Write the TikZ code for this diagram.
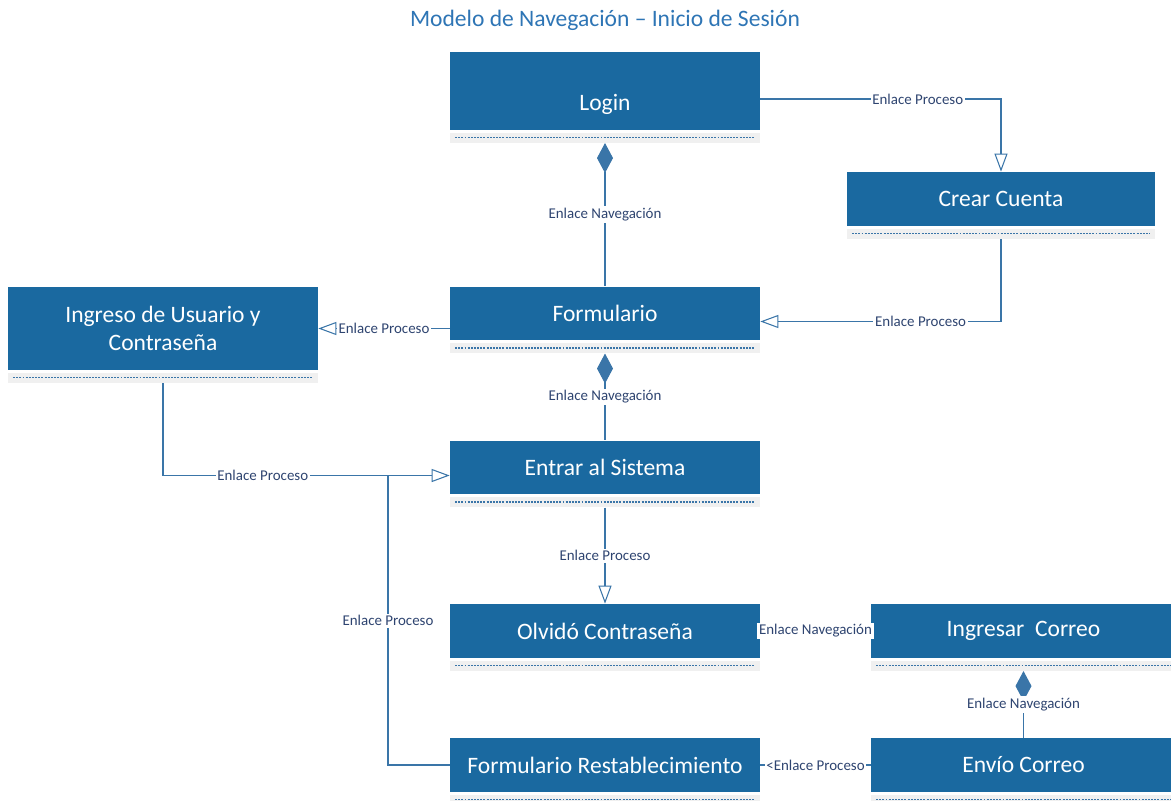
\documentclass[tikz,border=0pt]{standalone}
\usepackage{fontspec}
\setmainfont{Carlito}
\usepackage{tikz}
\usetikzlibrary{arrows.meta, positioning, calc}
\definecolor{CAJA}{HTML}{1A69A0}
\definecolor{LINEA}{HTML}{3A75A8}
\definecolor{ETIQUETA}{HTML}{2E4470}
\definecolor{TITULO}{HTML}{2E75B5}
\definecolor{BANDA}{HTML}{F0F0F0}

\begin{document}
\begin{tikzpicture}[x=0.02cm, y=-0.02cm,
    caja/.style={rectangle, fill=CAJA, text=white, minimum width=6.2cm, minimum height=1.08cm, inner sep=0pt, font=\fontsize{13.4}{16}\selectfont},
    banda/.style={rectangle, fill=BANDA, minimum height=0.2cm, inner sep=0pt,
        path picture={\draw[LINEA, dash pattern=on 1.1pt off 0.7pt, line width=0.9pt] ([xshift=0.1cm]path picture bounding box.west) -- ([xshift=-0.1cm]path picture bounding box.east);}},
    linea/.style={LINEA, line width=0.6pt},
    proceso/.style={linea, -{Triangle[open, length=0.36cm, width=0.26cm]}},
    navega/.style={linea, {Diamond[length=0.6cm, width=0.32cm]}-},
    etiq/.style={fill=white, text=ETIQUETA, inner sep=1pt, font=\fontsize{8.5}{10}\selectfont}]
    \useasboundingbox (0,0) rectangle (1171,801);
    \node[text=TITULO, font=\fontsize{13.4}{16}\selectfont] (titulo) at (605,20) {Modelo de Navegación – Inicio de Sesión};
    % cajas
    \node[caja, minimum height=1.56cm, text height=0.9cm, text depth=0.1cm] (login) at (605,91) {Login};
    \node[caja, minimum width=6.16cm] (crear) at (1001,199) {Crear Cuenta};
    \node[caja, minimum height=1.66cm, align=center] (ingreso) at (163,328.5) {Ingreso de Usuario y\\Contraseña};
    \node[caja] (formulario) at (605,313.5) {Formulario};
    \node[caja] (entrar) at (605,467.5) {Entrar al Sistema};
    \node[caja] (olvido) at (605,631) {Olvidó Contraseña};
    \node[caja, minimum width=6.1cm] (ingresar) at (1023.5,631) {Ingresar\ \ Correo};
    \node[caja] (formrest) at (605,765) {Formulario Restablecimiento};
    \node[caja, minimum width=6.1cm] (envio) at (1023.5,765) {Envío Correo};
    \foreach \n/\w in {login/6.2, crear/6.16, ingreso/6.2, formulario/6.2, entrar/6.2, olvido/6.2, ingresar/6.1, formrest/6.2, envio/6.1}
        \node[banda, minimum width=\w cm, below=0.04cm of \n] (\n-b) {};
    \coordinate (union) at (388,476);
    % enlaces
    \draw[proceso] ($(login.east)+(0,8)$) -| (crear.north) node[etiq, pos=0.327] {Enlace Proceso};
    \draw[navega] (login-b.south) -- (formulario.north) node[etiq, midway] {Enlace Navegación};
    \draw[proceso] (crear-b.south) |- ($(formulario.east)+(0,8)$) node[etiq, pos=0.667] {Enlace Proceso};
    \draw[proceso] (formulario.west |- ingreso.east) -- (ingreso.east) node[etiq, midway] {Enlace Proceso};
    \draw[navega] (formulario-b.south) -- (entrar.north) node[etiq, midway] {Enlace Navegación};
    \draw[proceso] (ingreso-b.south) |- ($(entrar.west)+(0,8)$) node[etiq, pos=0.674] {Enlace Proceso};
    \draw[linea] (formrest.west) -| (union) node[etiq, pos=0.75] {Enlace Proceso};
    \draw[proceso] (entrar-b.south) -- (olvido.north) node[etiq, midway] {Enlace Proceso};
    \draw[linea] (olvido.east) -- (ingresar.west) node[etiq, midway] {Enlace Navegación};
    \draw[navega] (ingresar-b.south) -- (envio.north) node[etiq, midway] {Enlace Navegación};
    \draw[linea] (envio.west) -- (formrest.east) node[etiq, midway] {<Enlace Proceso};
\end{tikzpicture}
\end{document}
